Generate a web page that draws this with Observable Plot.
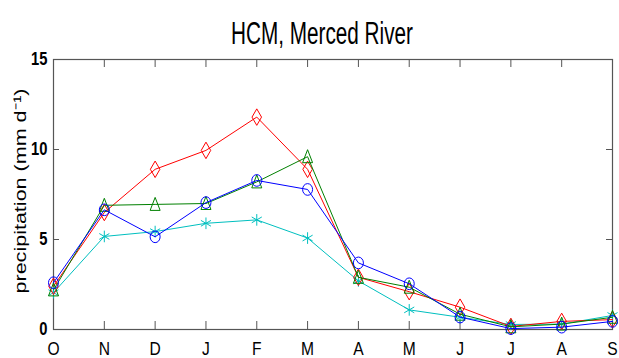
<!DOCTYPE html>
<html>
<head>
<meta charset="utf-8">
<script src="https://cdn.jsdelivr.net/npm/d3@7"></script>
<script src="https://cdn.jsdelivr.net/npm/@observablehq/plot@0.6"></script>
<style>
  html, body { margin: 0; padding: 0; background: #fff; }
</style>
</head>
<body>
<div id="chart"></div>
<script>
// ---- data ----
const title = "HCM, Merced River";
const yLabel = "precipitation (mm d\u207B\u00B9)";
const months = ["O","N","D","J","F","M","A","M","J","J","A","S"];
const yTicks = [0, 5, 10, 15];
const redVals   = [2.4, 6.5, 8.9, 9.95, 11.8, 8.9, 2.9, 2.1, 1.24, 0.17, 0.45, 0.55];
const greenVals = [2.2, 6.9, 6.95, 7.0, 8.2, 9.6, 2.9, 2.35, 0.85, 0.15, 0.3, 0.68];
const blueVals  = [2.6, 6.65, 5.15, 7.05, 8.28, 7.78, 3.7, 2.54, 0.69, 0.05, 0.13, 0.45];
const cyanVals  = [2.05, 5.17, 5.44, 5.9, 6.09, 5.08, 2.7, 1.09, 0.68, 0.28, 0.3, 0.78];

const idx = months.map((_, i) => i);

// custom vertically-stretched markers (MATLAB look)
const ellipse = {draw(ctx, size) {
  const r = Math.sqrt(size / Math.PI), rx = r, ry = r * 1.17, k = 0.5523;
  ctx.moveTo(0, -ry);
  ctx.bezierCurveTo(k * rx, -ry, rx, -k * ry, rx, 0);
  ctx.bezierCurveTo(rx, k * ry, k * rx, ry, 0, ry);
  ctx.bezierCurveTo(-k * rx, ry, -rx, k * ry, -rx, 0);
  ctx.bezierCurveTo(-rx, -k * ry, -k * rx, -ry, 0, -ry);
  ctx.closePath();
}};
const tallTriangle = {draw(ctx, size) {
  const r = Math.sqrt(size / Math.PI);
  ctx.moveTo(0, -1.4 * r);
  ctx.lineTo(r, 1.2 * r);
  ctx.lineTo(-r, 1.2 * r);
  ctx.closePath();
}};

const seriesDefs = [
  {name: "cyan",  vals: cyanVals,  color: "#00bfbf", symbol: "asterisk", r: 5.5},
  {name: "red",   vals: redVals,   color: "#ff0000", symbol: "diamond",  r: 5},
  {name: "green", vals: greenVals, color: "#008000", symbol: tallTriangle, r: 5},
  {name: "blue",  vals: blueVals,  color: "#0000ff", symbol: ellipse,   r: 5}
];

const lineMarks = [];
for (const s of seriesDefs) {
  const rows = s.vals.map((v, i) => ({i, v}));
  lineMarks.push(Plot.line(rows, {x: "i", y: "v", stroke: s.color, strokeWidth: 1}));
  lineMarks.push(Plot.dot(rows, {x: "i", y: "v", stroke: s.color, fill: "none", symbol: () => s.symbol, r: s.r, strokeWidth: 1}));
}

const W = 619, H = 358, mL = 53, mR = 7, mT = 59, mB = 29;
const fw = W - mL - mR, fh = H - mT - mB;
const sans = "'Liberation Sans', Arial, Helvetica, sans-serif";

const chart = Plot.plot({
  width: W, height: H,
  marginLeft: mL, marginRight: mR, marginTop: mT, marginBottom: mB,
  style: {background: "#fff", fontFamily: sans, color: "#000"},
  x: {domain: [0, 11], axis: null},
  y: {domain: [0, 15], axis: null},
  symbol: {type: "identity"},
  marks: [
    Plot.axisX(idx, {x: d => d, tickSize: 0, tickPadding: 12, tickFormat: i => months[i], fontSize: 19, fill: "#000",
      fontFamily: sans, label: null}),
    Plot.axisY(yTicks, {y: d => d, tickSize: 0, tickPadding: 6, fontSize: 18, fontWeight: "bold", fill: "#000",
      fontFamily: sans, label: null}),
    // inward ticks
    Plot.tickX(idx, {x: d => d, stroke: "#555", insetTop: fh - 8}),
    Plot.tickX(idx, {x: d => d, stroke: "#555", insetBottom: fh - 8}),
    Plot.tickY(yTicks, {y: d => d, stroke: "#555", insetRight: fw - 6}),
    Plot.tickY(yTicks, {y: d => d, stroke: "#555", insetLeft: fw - 6}),
    Plot.frame({stroke: "#555", strokeWidth: 1.2}),
    ...lineMarks,
    Plot.text([title], {text: d => d, frameAnchor: "top", lineAnchor: "bottom", dy: -16, dx: -11,
      fontSize: 31, fontFamily: sans, fill: "#000"}),
    Plot.text([yLabel], {text: d => d, frameAnchor: "left", textAnchor: "start", rotate: -90, dx: -33, dy: 99,
      fontSize: 17, fontFamily: sans, fill: "#000"})
  ]
});

document.getElementById("chart").appendChild(chart);

// condense / stretch texts to match the reference's aspect
function setLen(t, len) {
  t.setAttribute("textLength", len);
  t.setAttribute("lengthAdjust", "spacingAndGlyphs");
}
chart.querySelectorAll("text").forEach(t => {
  const s = t.textContent;
  if (s === title) setLen(t, 182);
  else if (s === yLabel) setLen(t, 205);
  else if (months.includes(s) || yTicks.map(String).includes(s)) {
    const w = t.getComputedTextLength();
    if (w > 0) setLen(t, w * 0.82);
  }
});
</script>
</body>
</html>
